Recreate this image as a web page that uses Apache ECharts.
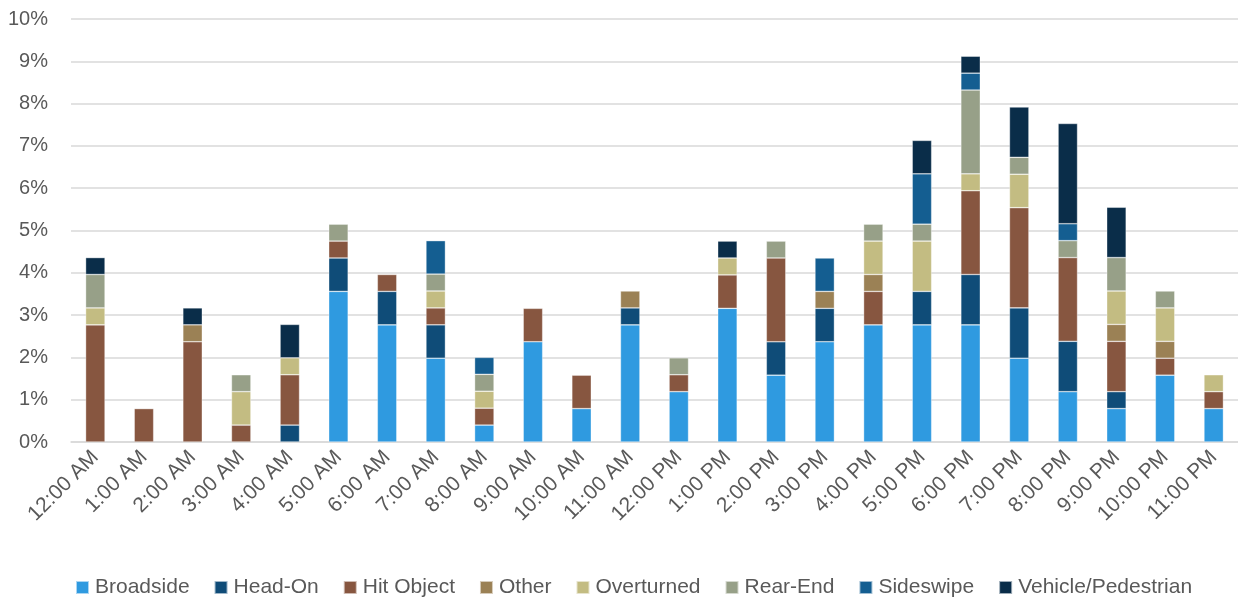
<!DOCTYPE html>
<html>
<head>
<meta charset="utf-8">
<script src="https://cdn.jsdelivr.net/npm/echarts@6/dist/echarts.min.js"></script>
<style>
  html, body { margin: 0; padding: 0; background: #ffffff; }
  #chart { width: 1238px; height: 597px; }
</style>
</head>
<body>
<div id="chart"></div>
<script>
// Share of collisions (%) by hour of day and collision type
const hours = ['12:00 AM','1:00 AM','2:00 AM','3:00 AM','4:00 AM','5:00 AM','6:00 AM','7:00 AM','8:00 AM','9:00 AM','10:00 AM','11:00 AM',
               '12:00 PM','1:00 PM','2:00 PM','3:00 PM','4:00 PM','5:00 PM','6:00 PM','7:00 PM','8:00 PM','9:00 PM','10:00 PM','11:00 PM'];

const broadside  = [0,0,0,0,0,3.56,2.77,1.98,0.40,2.37,0.79,2.77,1.19,3.16,1.58,2.37,2.77,2.77,2.77,1.98,1.19,0.79,1.58,0.79];
const headOn     = [0,0,0,0,0.40,0.79,0.79,0.79,0,0,0,0.40,0,0,0.79,0.79,0,0.79,1.19,1.19,1.19,0.40,0,0];
const hitObject  = [2.77,0.79,2.37,0.40,1.19,0.40,0.40,0.40,0.40,0.79,0.79,0,0.40,0.79,1.98,0,0.79,0,1.98,2.37,1.98,1.19,0.40,0.40];
const other      = [0,0,0.40,0,0,0,0,0,0,0,0,0.40,0,0,0,0.40,0.40,0,0,0,0,0.40,0.40,0];
const overturned = [0.40,0,0,0.79,0.40,0,0,0.40,0.40,0,0,0,0,0.40,0,0,0.79,1.19,0.40,0.79,0,0.79,0.79,0.40];
const rearEnd    = [0.79,0,0,0.40,0,0.40,0,0.40,0.40,0,0,0,0.40,0,0.40,0,0.40,0.40,1.98,0.40,0.40,0.79,0.40,0];
const sideswipe  = [0,0,0,0,0,0,0,0.79,0.40,0,0,0,0,0,0,0.79,0,1.19,0.40,0,0.40,0,0,0];
const vehPed     = [0.40,0,0.40,0,0.79,0,0,0,0,0,0,0,0,0.40,0,0,0,0.79,0.40,1.19,2.37,1.19,0,0];

const yTicks = { min: 0, max: 10, interval: 1 };

const seriesDefs = [
  { name: 'Broadside',          data: broadside,  color: '#2f9ae0' },
  { name: 'Head-On',            data: headOn,     color: '#0f4c78' },
  { name: 'Hit Object',         data: hitObject,  color: '#875640' },
  { name: 'Other',              data: other,      color: '#9b8155' },
  { name: 'Overturned',         data: overturned, color: '#c3bc82' },
  { name: 'Rear-End',           data: rearEnd,    color: '#97a088' },
  { name: 'Sideswipe',          data: sideswipe,  color: '#145e91' },
  { name: 'Vehicle/Pedestrian', data: vehPed,     color: '#0a2d49' }
];

const FONT = '"Liberation Sans", Arial, sans-serif';
const TEXT = '#595959';

const chart = echarts.init(document.getElementById('chart'), null, { renderer: 'canvas' });

chart.setOption({
  backgroundColor: '#ffffff',
  animation: false,
  textStyle: { fontFamily: FONT },
  grid: { left: 71, right: 0, top: 19, bottom: 155 },
  legend: {
    top: 572,
    left: 70,
    itemWidth: 13,
    itemHeight: 13,
    itemGap: 24,
    icon: 'rect',
    textStyle: { fontFamily: FONT, fontSize: 21, color: TEXT, padding: [0, 0, 0, 1] },
    data: seriesDefs.map(s => s.name)
  },
  xAxis: {
    type: 'category',
    data: hours,
    axisLine: { show: true, lineStyle: { color: '#d9d9d9', width: 1.5 } },
    axisTick: { show: false },
    axisLabel: {
      rotate: 45,
      interval: 0,
      margin: 12,
      fontFamily: FONT,
      fontSize: 21,
      color: TEXT
    }
  },
  yAxis: {
    type: 'value',
    min: yTicks.min,
    max: yTicks.max,
    interval: yTicks.interval,
    axisLine: { show: false },
    axisTick: { show: false },
    splitLine: { lineStyle: { color: '#d9d9d9', width: 1.5 } },
    axisLabel: {
      formatter: '{value}%',
      margin: 23,
      fontFamily: FONT,
      fontSize: 20,
      color: TEXT
    }
  },
  series: seriesDefs.map(s => ({
    name: s.name,
    type: 'bar',
    stack: 'total',
    barCategoryGap: '60%',
    itemStyle: { color: s.color, borderColor: 'rgba(255,255,255,0.6)', borderWidth: 0.6 },
    emphasis: { disabled: true },
    data: s.data.map(v => (v === 0 ? '-' : v))
  }))
});
</script>
</body>
</html>
